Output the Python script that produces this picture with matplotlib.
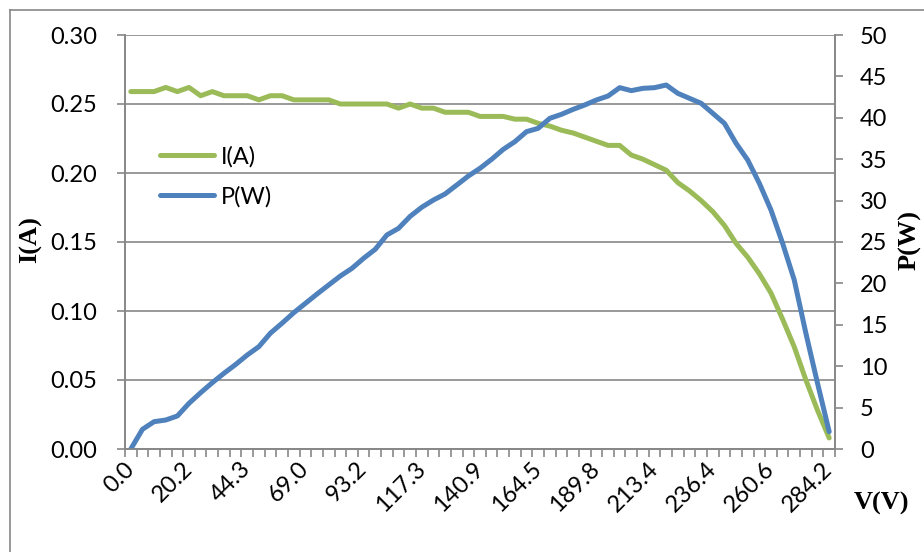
import matplotlib
matplotlib.use('Agg')
import matplotlib.pyplot as plt
import matplotlib.transforms as mtransforms
from matplotlib.lines import Line2D
import numpy as np

# tick labels on the category axis (one every 5 points)
v_labels = ['0.0', '20.2', '44.3', '69.0', '93.2', '117.3', '140.9',
            '164.5', '189.8', '213.4', '236.4', '260.6', '284.2']

# current I(A)
current = [0.259, 0.259, 0.259, 0.262, 0.259, 0.262, 0.256, 0.259, 0.256, 0.256,
           0.256, 0.253, 0.256, 0.256, 0.253, 0.253, 0.253, 0.253, 0.250, 0.250,
           0.250, 0.250, 0.250, 0.247, 0.250, 0.247, 0.247, 0.244, 0.244, 0.244,
           0.241, 0.241, 0.241, 0.239, 0.239, 0.236, 0.234, 0.231, 0.229, 0.226,
           0.223, 0.220, 0.220, 0.213, 0.210, 0.206, 0.202, 0.193, 0.187, 0.180,
           0.172, 0.162, 0.149, 0.139, 0.127, 0.113, 0.094, 0.074, 0.050, 0.028,
           0.008]

# power P(W)
power = [0.0, 2.38, 3.30, 3.50, 3.99, 5.52, 6.80, 8.01, 9.14, 10.20,
         11.35, 12.36, 14.00, 15.20, 16.46, 17.59, 18.72, 19.81, 20.89, 21.82,
         23.03, 24.12, 25.85, 26.65, 28.10, 29.20, 30.07, 30.80, 31.88, 32.97,
         33.90, 34.99, 36.19, 37.12, 38.33, 38.73, 39.94, 40.42, 41.02, 41.55,
         42.15, 42.63, 43.64, 43.28, 43.56, 43.64, 43.96, 42.95, 42.35, 41.75,
         40.54, 39.33, 36.92, 34.90, 32.09, 28.86, 24.84, 20.41, 13.97, 7.93,
         2.09]

green = '#9BBB59'
blue = '#4F81BD'
grey = '#878787'
font = 'Lato'
fs = 17

plt.rcParams['font.family'] = [font, 'DejaVu Sans']

fig = plt.figure(figsize=(9.24, 5.52), dpi=100)
ax = fig.add_axes([125/924, 1 - 449/552, 710/924, 414/552])
ax2 = ax.twinx()

x = np.arange(len(current))
ax.plot(x, current, color=green, lw=3.6, solid_capstyle='round', solid_joinstyle='round')
ax2.plot(x, power, color=blue, lw=3.6, solid_capstyle='round', solid_joinstyle='round')

ax.set_xlim(-0.5, len(current) - 0.5)
ax.set_ylim(0, 0.30)
ax2.set_ylim(0, 50)

ax.set_yticks(np.arange(0, 0.301, 0.05))
ax.set_yticklabels(['%.2f' % v for v in np.arange(0, 0.301, 0.05)])
ax2.set_yticks(np.arange(0, 51, 5))

ax.set_xticks(np.arange(0, len(current), 5))
ax.set_xticklabels(v_labels, rotation=45, ha='right', va='center', rotation_mode='anchor')
ax.set_xticks(np.arange(-0.5, len(current), 1), minor=True)

# nudge the slanted labels a little right/down like the original
shift = mtransforms.ScaledTranslation(7/100, -3/100, fig.dpi_scale_trans)
for lab in ax.get_xticklabels():
    lab.set_transform(lab.get_transform() + shift)

ax.yaxis.grid(True, color=grey, lw=1.2)
ax.set_axisbelow(True)

for a in (ax, ax2):
    for s in a.spines.values():
        s.set_color(grey)
        s.set_linewidth(1.2)
    a.spines['top'].set_visible(False)

ax.tick_params(axis='x', which='major', length=0, pad=12, labelsize=fs)
ax.tick_params(axis='x', which='minor', length=6, color=grey, width=1.2, direction='out')
ax.tick_params(axis='y', length=6, color=grey, width=1.2, pad=14, labelsize=fs)
ax2.tick_params(axis='y', length=6, color=grey, width=1.2, pad=12, labelsize=fs)

ax.set_ylabel('I(A)', family='Liberation Serif', fontweight='bold', fontsize=19)
ax.yaxis.set_label_coords(-0.117, 0.505)
ax2.set_ylabel('P(W)', family='Liberation Serif', fontweight='bold', fontsize=19)
ax2.yaxis.set_label_coords(1.089, 0.505)
fig.text(882/924, 1 - 503/552, 'V(V)', family='Liberation Serif', fontweight='bold',
         fontsize=19, ha='center', va='center')

handles = [Line2D([], [], color=green, lw=3.6, solid_capstyle='round'),
           Line2D([], [], color=blue, lw=3.6, solid_capstyle='round')]
ax2.legend(handles, ['I(A)', 'P(W)'], loc='center left', bbox_to_anchor=(0.049, 0.658),
           frameon=False, borderpad=0, borderaxespad=0, handlelength=2.3,
           handletextpad=0.3, labelspacing=0.8, fontsize=fs)

# outer chart border
fig.add_artist(Line2D([10/924, 10/924], [1 - 10/552, 0], color=grey, lw=1.2))
fig.add_artist(Line2D([10/924, 1], [1 - 10/552, 1 - 10/552], color=grey, lw=1.2))

fig.savefig('out.png', dpi=100)
